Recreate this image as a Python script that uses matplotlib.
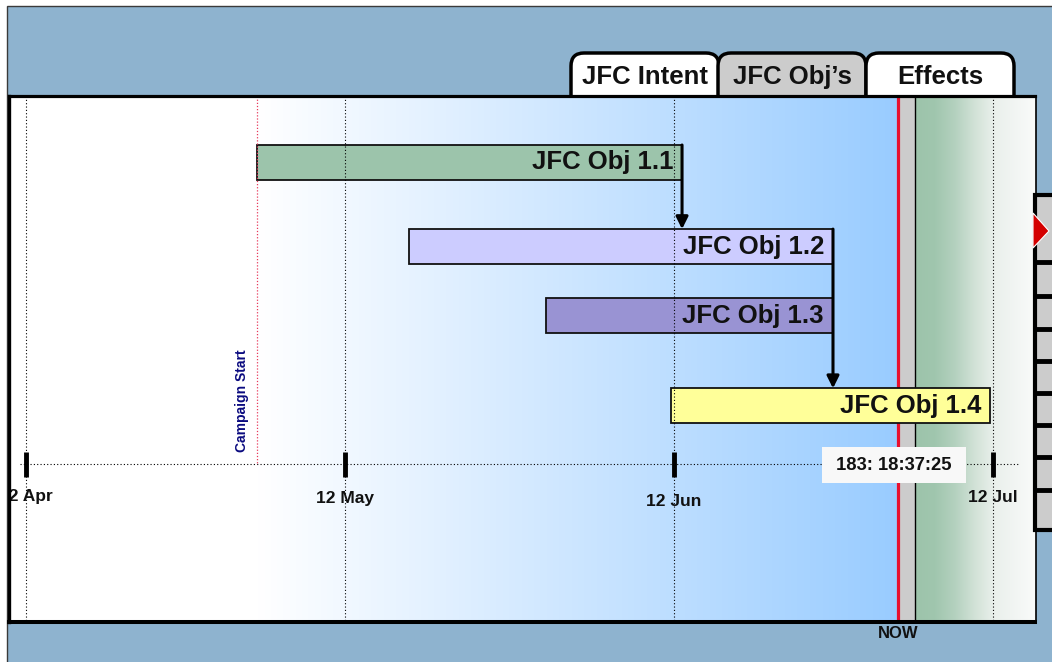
import matplotlib
matplotlib.use("Agg")
import matplotlib.pyplot as plt
import matplotlib.dates as mdates
from matplotlib.patches import Rectangle, FancyBboxPatch, Polygon
from matplotlib.transforms import Affine2D
import numpy as np

plt.rcParams['font.family'] = ['Liberation Sans', 'DejaVu Sans']

# ---------------- data ----------------
objectives = ["JFC Obj 1.1", "JFC Obj 1.2", "JFC Obj 1.3", "JFC Obj 1.4"]
obj_start = ["2003-05-03T17:30", "2003-05-18T01:00", "2003-05-30T22:30", "2003-06-11T16:50"]
obj_end = ["2003-06-12T17:45", "2003-06-26T22:45", "2003-06-26T22:45", "2003-07-11T17:30"]
obj_colors = ["#9CC4AB", "#CCCCFF", "#9993D3", "#FFFF99"]
dependencies = [(0, 1), (1, 3)]
campaign_start = "2003-05-03T17:30"
campaign_label = "Campaign Start"
now_time = "2003-07-03T01:30"
now_label = "183: 18:37:25"
tick_dates = ["2003-04-12", "2003-05-12", "2003-06-12", "2003-07-12"]
tick_labels = ["12 Apr", "12 May", "12 Jun", "12 Jul"]
tab_labels = ["JFC Intent", "JFC Obj\u2019s", "Effects"]
tab_colors = ["white", "#CCCCCC", "white"]

# ---------------- layout (pixels) ----------------
W, H = 1052, 662
lane_y = [162.5, 246.6, 315.5, 405.8]
bar_h = 35
timeline_y = 464
tick_label_y = [496, 498, 502, 497.5]
PX_PER_DAY = 10.6246
X0_PX = 26.08

fig = plt.figure(figsize=(W / 100, H / 100), dpi=100, facecolor='white')
pxT = Affine2D().scale(1, -1).translate(0, H).scale(1 / W, 1 / H) + fig.transFigure


def dn(s):
    return mdates.date2num(np.datetime64(s))


t0 = dn(tick_dates[0])


def px2num(p):
    return t0 + (p - X0_PX) / PX_PER_DAY


# outer blue background
fig.patches.append(Rectangle((7, 6), 1100, 700, transform=pxT, fc='#8EB3CF',
                             ec='#3A3A3A', lw=1, zorder=-3))

# tabs
tab_x = [571, 718, 866]
tab_w = [148, 148, 148]
tab_order = [-1.2, -1.1, -1.0]
for lab, x, w, c, z in zip(tab_labels, tab_x, tab_w, tab_colors, tab_order):
    fig.patches.append(FancyBboxPatch((x, 53), w, 70, boxstyle="round,pad=0,rounding_size=13",
                                      transform=pxT, fc=c, ec='black', lw=2.5, zorder=z))
    fig.text((x + w / 2) / W, 1 - 77 / H, lab, ha='center', va='center', fontsize=18.5,
             fontweight='bold', color='#111111', zorder=-0.5)

# right column of boxes (drawn above the panel)
fig.patches.append(Rectangle((1035, 195), 40, 335, transform=pxT, fc='#CCCCCC', ec='black',
                             lw=3, zorder=20))
for yy in [262, 296, 329, 361, 393, 425, 457, 490]:
    fig.lines.append(plt.Line2D([1035, 1060], [yy, yy], transform=pxT, color='black', lw=3.5,
                                zorder=21))
fig.patches.append(Polygon([[1033, 213], [1049, 231], [1033, 248]], closed=True, transform=pxT,
                           fc='#D40000', ec='white', lw=0.8, zorder=22))

# main panel axes
ax = fig.add_axes([9.5 / W, 1 - 622 / H, 1026 / W, 526.5 / H])
ax.set_facecolor('white')

cs = dn(campaign_start)
nw = dn(now_time)
strip_end = nw + 17 / PX_PER_DAY
x_min, x_max = px2num(9.5), px2num(1035.5)

# blue gradient from campaign start to NOW
n = 256
g = np.linspace(0, 1, n)[:, None]
c0 = np.array([1.0, 1.0, 1.0])
c1 = np.array([0x99, 0xCC, 0xFF]) / 255
img = c0 * (1 - g) + c1 * g
ax.imshow(img[None, :, :], extent=[cs, nw, 622, 95.5], aspect='auto', zorder=0,
          interpolation='bilinear')

# green gradient right of NOW strip
stops_px = np.array([915, 935, 955, 975, 995, 1036])
stops_col = np.array([[157, 196, 171], [160, 198, 174], [180, 209, 191], [210, 226, 215],
                      [234, 240, 236], [250, 251, 250]]) / 255
xs = np.linspace(915, 1036, 300)
gimg = np.stack([np.interp(xs, stops_px, stops_col[:, k]) for k in range(3)], axis=1)
ax.imshow(gimg[None, :, :], extent=[strip_end, x_max, 622, 95.5], aspect='auto', zorder=0,
          interpolation='bilinear')

# grey NOW strip
ax.axvspan(nw, strip_end, color='#CCCCCC', zorder=0.5, lw=0)
ax.axvline(strip_end, color='black', lw=1.0, zorder=0.6)

# NOW red line
ax.plot([nw, nw], [95.5, 623], color='#E8102E', lw=2.3, zorder=1, clip_on=False,
        solid_capstyle='butt')

ticks = [dn(t) for t in tick_dates]

# bars
for name, s, e, c, y in zip(objectives, obj_start, obj_end, obj_colors, lane_y):
    ax.barh(y, dn(e) - dn(s), left=dn(s), height=bar_h, color=c, edgecolor='#111111',
            lw=1.3, zorder=2)

# dotted vertical grid
ax.vlines(ticks, 95.5, 622, colors='black', linestyles=(0, (1, 2)), lw=0.8, zorder=3)
# campaign start line
ax.vlines([cs], 95.5, timeline_y, colors='#E83A5C', linestyles=(0, (1, 1.5)), lw=0.9, zorder=3)
# timeline
ax.hlines(timeline_y, px2num(20), px2num(1018), colors='black', linestyles=(0, (1, 2)),
          lw=0.8, zorder=3)
# tick marks
ax.vlines(ticks, 452, 477, colors='black', lw=3.5, zorder=4)
for t, lab, ly in zip(ticks, tick_labels, tick_label_y):
    ax.text(t, ly, lab, ha='center', va='center', fontsize=12.5, fontweight='bold',
            color='#111111', zorder=4, clip_on=True)

# campaign start label
ax.annotate(campaign_label, xy=(cs, 452), xytext=(-15, 0), textcoords='offset pixels',
            rotation=90, ha='center', va='bottom', fontsize=10, fontweight='bold',
            color='#0B0B80', zorder=4)

# bar labels
for name, e, y in zip(objectives, obj_end, lane_y):
    ax.annotate(name, xy=(dn(e), y), xytext=(-9, 0), textcoords='offset pixels',
                ha='right', va='center', fontsize=18.5, fontweight='bold', color='#111111',
                zorder=5)

# dependency arrows
for a, b in dependencies:
    x = dn(obj_end[a])
    ax.annotate('', xy=(x, lane_y[b] - bar_h / 2), xytext=(x, lane_y[a] - bar_h / 2),
                arrowprops=dict(arrowstyle='-|>', color='black', lw=2.2, shrinkA=0, shrinkB=0,
                                mutation_scale=18), zorder=6)

# time box
ax.text(nw - 4 / PX_PER_DAY, 465, " " + now_label + " ", ha='center', va='center',
        fontsize=13.2, fontweight='bold', color='#111111', zorder=8,
        bbox=dict(boxstyle='square,pad=0.5', fc='#F8F8F8', ec='none'))

# NOW label
ax.text(nw, 634, "NOW", ha='center', va='center', fontsize=12, fontweight='bold',
        color='#111111', clip_on=False, zorder=8)

ax.set_xlim(x_min, x_max)
ax.set_ylim(622, 95.5)
ax.set_xticks([])
ax.set_yticks([])
for side, lw in [('left', 2.4), ('top', 2.3), ('bottom', 2.9), ('right', 1.2)]:
    ax.spines[side].set_linewidth(lw)
    ax.spines[side].set_color('black')
    ax.spines[side].set_zorder(9)

fig.savefig("out.png", dpi=100, facecolor='white')
